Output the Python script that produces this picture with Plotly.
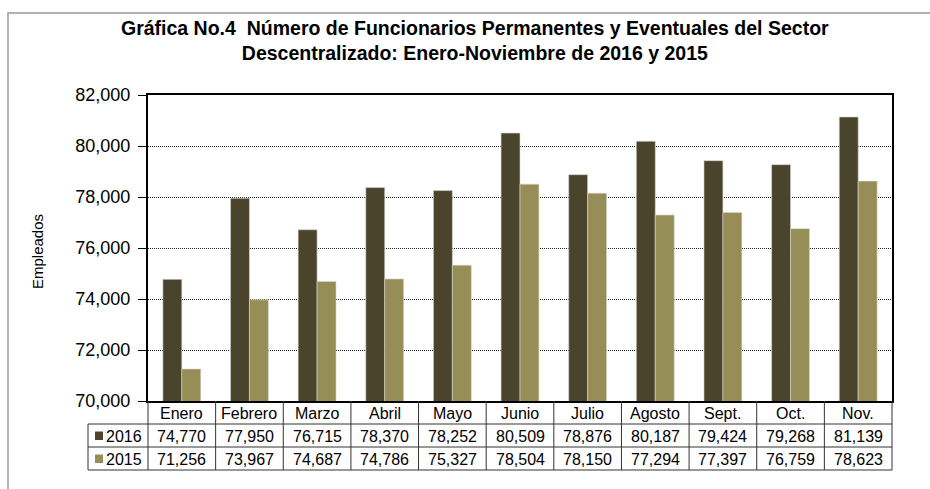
import plotly.graph_objects as go

months = ["Enero", "Febrero", "Marzo", "Abril", "Mayo", "Junio", "Julio",
          "Agosto", "Sept.", "Oct.", "Nov."]
vals_2016 = [74770, 77950, 76715, 78370, 78252, 80509, 78876, 80187, 79424, 79268, 81139]
vals_2015 = [71256, 73967, 74687, 74786, 75327, 78504, 78150, 77294, 77397, 76759, 78623]
series_names = ["2016", "2015"]
colors = ["#4A442C", "#978D56"]

W, H = 930, 489
L, R, T, B = 148, 38, 95, 88
pw, ph = W - L - R, H - T - B

def px(x):
    return (x - L) / pw

def py(y):
    return (H - B - y) / ph

fig = go.Figure()
for name, vals, c in zip(series_names, [vals_2016, vals_2015], colors):
    fig.add_trace(go.Bar(x=months, y=vals, name=name, marker_color=c,
                         marker_line=dict(color="#d8d8d0", width=0.6)))

font = "Liberation Sans, Arial, sans-serif"
shapes = []
annotations = []
n = len(months)
row_top = [H - B, H - B + 23, H - B + 46, H - B + 69]
line_c = "#333333"
for yy in row_top[1:]:
    shapes.append(dict(type="line", xref="paper", yref="paper", x0=px(88), x1=1,
                       y0=py(yy), y1=py(yy), line=dict(color=line_c, width=1)))
for i in range(n + 1):
    shapes.append(dict(type="line", xref="paper", yref="paper", x0=i / n, x1=i / n,
                       y0=py(row_top[0]), y1=py(row_top[3]), line=dict(color=line_c, width=1)))
shapes.append(dict(type="line", xref="paper", yref="paper", x0=px(88), x1=px(88),
                   y0=py(row_top[1]), y1=py(row_top[3]), line=dict(color=line_c, width=1)))

def ann(x, y, text, size=16, xanchor="center", **kw):
    d = dict(x=x, y=y, xref="paper", yref="paper", text=text, showarrow=False,
             xanchor=xanchor, yanchor="middle",
             font=dict(size=size, color="black", family=font))
    d.update(kw)
    return d

for i, m in enumerate(months):
    xc = (i + 0.5) / n
    annotations.append(ann(xc, py((row_top[0] + row_top[1]) / 2 + 1), m))
    for r, vals in enumerate([vals_2016, vals_2015]):
        annotations.append(ann(xc, py((row_top[r + 1] + row_top[r + 2]) / 2 + 1), f"{vals[i]:,}"))
for r, (name, c) in enumerate(zip(series_names, colors)):
    yc = (row_top[r + 1] + row_top[r + 2]) / 2
    shapes.append(dict(type="rect", xref="paper", yref="paper", x0=px(95), x1=px(103),
                       y0=py(yc + 4.5), y1=py(yc - 4), fillcolor=c, line=dict(width=0)))
    annotations.append(ann(px(104), py(yc + 1), name, xanchor="left"))

# outer frame
shapes.append(dict(type="rect", xref="paper", yref="paper", x0=px(8), x1=px(940),
                   y0=py(500), y1=py(13), line=dict(color="#9a9a9a", width=1.5),
                   fillcolor="rgba(0,0,0,0)", layer="below"))
title1 = "Gráfica No.4  Número de Funcionarios Permanentes y Eventuales del Sector"
title2 = "Descentralizado: Enero-Noviembre de 2016 y 2015"
annotations.append(ann(px(475), py(41), f"<b>{title1}<br>{title2}</b>", size=19.5))
annotations.append(ann(px(37), py(252), "Empleados", size=15, textangle=-90))

fig.update_layout(
    width=W, height=H,
    margin=dict(l=L, r=R, t=T, b=B, pad=0),
    paper_bgcolor="white", plot_bgcolor="white",
    barmode="group", bargap=0.44, bargroupgap=0,
    showlegend=False,
    shapes=shapes, annotations=annotations,
    font=dict(family=font, color="black"),
)
fig.update_xaxes(showticklabels=False, ticks="", showline=True, linecolor="black",
                 linewidth=2, mirror=True, showgrid=False)
fig.update_yaxes(range=[70000, 82000], dtick=2000, tickformat=",", ticks="outside",
                 ticklen=8, tickcolor="black", tickwidth=1, showline=True, linecolor="black",
                 linewidth=2, mirror=True, showgrid=True, gridcolor="#222222",
                 griddash="1px,1px", gridwidth=1, zeroline=False, ticklabelstandoff=4,
                 tickfont=dict(size=18, color="black", family=font))

fig.write_html("out.html", config={"displayModeBar": False})
with open("out.html", encoding="utf-8") as f:
    html = f.read()
html = html.replace("<body>", '<body style="margin:0;padding:0;">', 1)
with open("out.html", "w", encoding="utf-8") as f:
    f.write(html)
